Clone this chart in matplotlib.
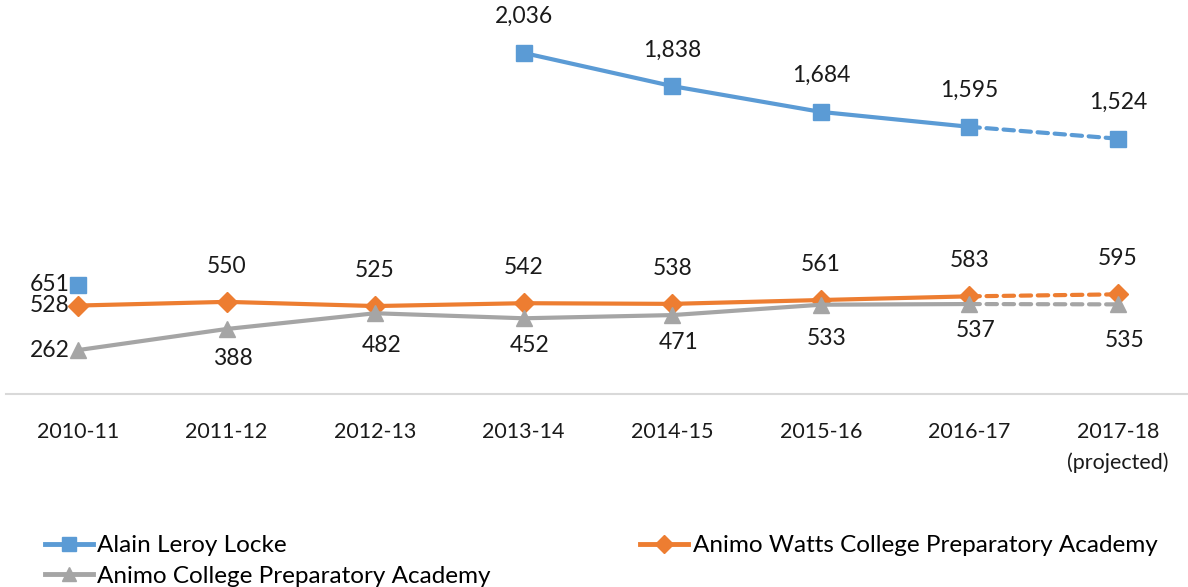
import numpy as np
import matplotlib.pyplot as plt
from matplotlib.lines import Line2D

plt.rcParams['font.family'] = ['Lato', 'DejaVu Sans']

years = ["2010-11", "2011-12", "2012-13", "2013-14", "2014-15", "2015-16", "2016-17", "2017-18\n(projected)"]
locke = [651, np.nan, np.nan, 2036, 1838, 1684, 1595, 1524]
watts = [528, 550, 525, 542, 538, 561, 583, 595]
college = [262, 388, 482, 452, 471, 533, 537, 535]

names = ["Alain Leroy Locke", "Animo Watts College Preparatory Academy", "Animo College Preparatory Academy"]
colors = ["#5b9bd5", "#ed7d31", "#a5a5a5"]
markers = ["s", "D", "^"]
msizes = [11, 10, 11]

# gap (in points) below the grey markers, as the labels sit in the original
gray_gap = [0, 21, 23, 19.5, 20, 24, 19, 26]

fig = plt.figure(figsize=(11.88, 5.87), dpi=100)
ax = fig.add_axes([0.005, 0.3288, 0.995, 0.6712])

x = np.arange(len(years))
series = [locke, watts, college]
for vals, c, m, ms in zip(series, colors, markers, msizes):
    v = np.array(vals, dtype=float)
    ax.plot(x[:7], v[:7], color=c, lw=3, marker=m, ms=ms, solid_capstyle='round', zorder=3)
    ax.plot(x[6:], v[6:], color=c, lw=3, ls=(0, (2.5, 1.6)), marker=m, ms=ms,
            markevery=[1], dash_capstyle='round', zorder=3)

def lab(xi, yi, dx, dy, ha='center'):
    ax.annotate(f"{yi:,.0f}", (xi, yi), xytext=(dx, dy), textcoords='offset points',
                ha=ha, va='center', fontsize=16.5, color='#1a1a1a')

for i, v in enumerate(locke):
    if np.isnan(v):
        continue
    if i == 0:
        lab(i, v, -6, 0, 'right')
    else:
        lab(i, v, 0, 26)
for i, v in enumerate(watts):
    if i == 0:
        lab(i, v, -6, 0, 'right')
    else:
        lab(i, v, 0, 25.5)
for i, v in enumerate(college):
    if i == 0:
        lab(i, v, -6, 0, 'right')
    else:
        lab(i, v, 4.5, -gray_gap[i])

ax.set_xlim(-0.485, 7.471)
ax.set_ylim(0, 2352)
ax.set_yticks([])
ax.set_xticks(x)
ax.set_xticklabels(years, fontsize=15.5, color='#1a1a1a', linespacing=1.65)
ax.tick_params(axis='x', length=0, pad=20)
for s in ['top', 'right', 'left']:
    ax.spines[s].set_visible(False)
ax.spines['bottom'].set_color('#d9d9d9')
ax.spines['bottom'].set_linewidth(1.5)
ax.patch.set_visible(False)

handles = [Line2D([], [], color=c, lw=3.5, marker=m, ms=ms - 1) for c, m, ms in zip(colors, markers, msizes)]
order = [0, 2, 1]
fig.legend([handles[i] for i in order], [names[i] for i in order], ncol=2,
           loc='upper left', bbox_to_anchor=(0.038, 0.088), frameon=False,
           fontsize=17.5, handlelength=1.95, handletextpad=0.2, columnspacing=6.15,
           labelspacing=0.38, borderpad=0, borderaxespad=0)

fig.savefig("out.png", dpi=100)
